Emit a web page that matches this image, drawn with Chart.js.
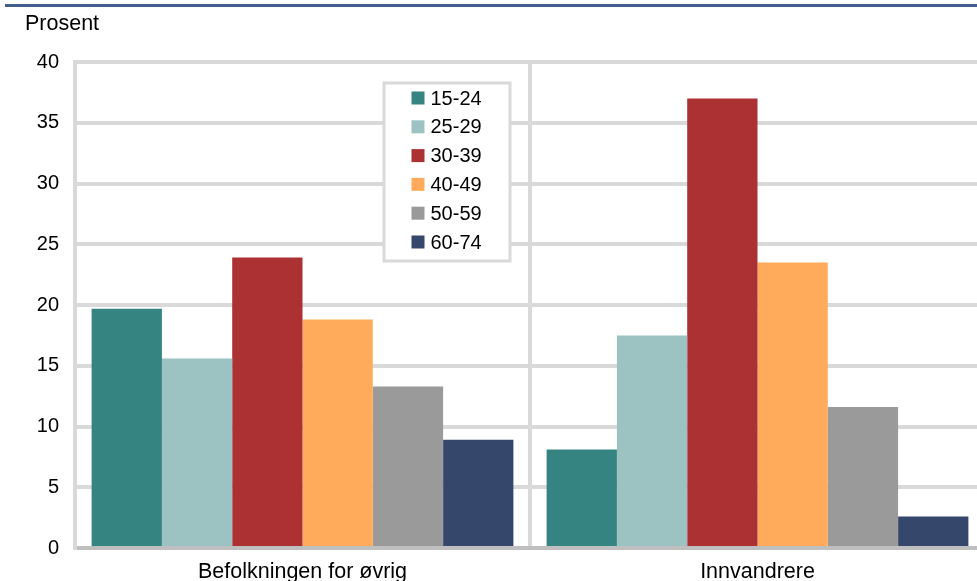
<!DOCTYPE html>
<html>
<head>
<meta charset="utf-8">
<script src="https://cdn.jsdelivr.net/npm/chart.js@4/dist/chart.umd.min.js"></script>
<style>
    html, body { margin: 0; padding: 0; background: #fff; overflow: hidden; }
    #wrap { width: 990px; height: 581px; }
</style>
</head>
<body>
<div id="wrap"><canvas id="ageChart" width="990" height="581"></canvas></div>
<script>
// Data
const categories = ['Befolkningen for øvrig', 'Innvandrere'];
const ageGroups = ['15-24', '25-29', '30-39', '40-49', '50-59', '60-74'];
const values1524 = [19.7, 8.1];
const values2529 = [15.6, 17.5];
const values3039 = [23.9, 37.0];
const values4049 = [18.8, 23.5];
const values5059 = [13.3, 11.6];
const values6074 = [8.9, 2.6];
const yTicks = [0, 5, 10, 15, 20, 25, 30, 35, 40];

const seriesValues = [values1524, values2529, values3039, values4049, values5059, values6074];
const colors = ['#358482', '#9cc2c2', '#ab3133', '#ffab5b', '#9a9a9a', '#35476b'];
const FONT = '"Liberation Sans", Arial, sans-serif';

// Header line, unit label and the legend box inside the plot
const decorations = {
    id: 'decorations',
    afterDraw(chart) {
        const ctx = chart.ctx;
        ctx.save();
        ctx.strokeStyle = '#425e8f';
        ctx.lineWidth = 3;
        ctx.beginPath();
        ctx.moveTo(5, 5.5);
        ctx.lineTo(990, 5.5);
        ctx.stroke();

        ctx.fillStyle = '#000';
        ctx.font = '21.5px ' + FONT;
        ctx.textBaseline = 'alphabetic';
        ctx.textAlign = 'left';
        ctx.fillText('Prosent', 25, 30);

        // legend
        ctx.font = '20px ' + FONT;
        ctx.fillStyle = '#fff';
        ctx.fillRect(384, 83, 126, 178);
        ctx.strokeStyle = '#d9d9d9';
        ctx.lineWidth = 3;
        ctx.strokeRect(384, 83, 126, 178);
        ctx.textBaseline = 'middle';
        ageGroups.forEach((label, i) => {
            const y = 98 + i * 28.8;
            ctx.fillStyle = colors[i];
            ctx.fillRect(411.5, y - 6.5, 13, 13);
            ctx.fillStyle = '#000';
            ctx.fillText(label, 430.5, y + 1);
        });
        ctx.restore();
    }
};

new Chart(document.getElementById('ageChart').getContext('2d'), {
    type: 'bar',
    data: {
        labels: categories,
        datasets: ageGroups.map((label, i) => ({
            label: label,
            data: seriesValues[i],
            backgroundColor: colors[i],
            borderWidth: 0,
            categoryPercentage: 0.927,
            barPercentage: 1
        }))
    },
    options: {
        responsive: false,
        animation: false,
        layout: { padding: { top: 62, right: 5, bottom: 0, left: 0 } },
        plugins: {
            legend: { display: false },
            tooltip: { enabled: false }
        },
        scales: {
            x: {
                offset: true,
                grid: { offset: true, color: '#d9d9d9', lineWidth: 4, drawTicks: false },
                border: { display: false },
                ticks: { color: '#000', font: { family: FONT, size: 21.5 }, padding: 11, maxRotation: 0 },
                afterFit(scale) { scale.height = 33; }
            },
            y: {
                min: 0,
                max: 40,
                afterBuildTicks(scale) { scale.ticks = yTicks.map(v => ({ value: v })); },
                grid: {
                    color: c => (c.tick && c.tick.value === 0 ? '#bfbfbf' : '#d9d9d9'),
                    lineWidth: 4,
                    drawTicks: false
                },
                border: { display: true, color: '#d9d9d9', width: 4 },
                ticks: { color: '#000', font: { family: FONT, size: 20 }, padding: 16 },
                afterFit(scale) { scale.width = 75; }
            }
        }
    },
    plugins: [decorations]
});
</script>
</body>
</html>
